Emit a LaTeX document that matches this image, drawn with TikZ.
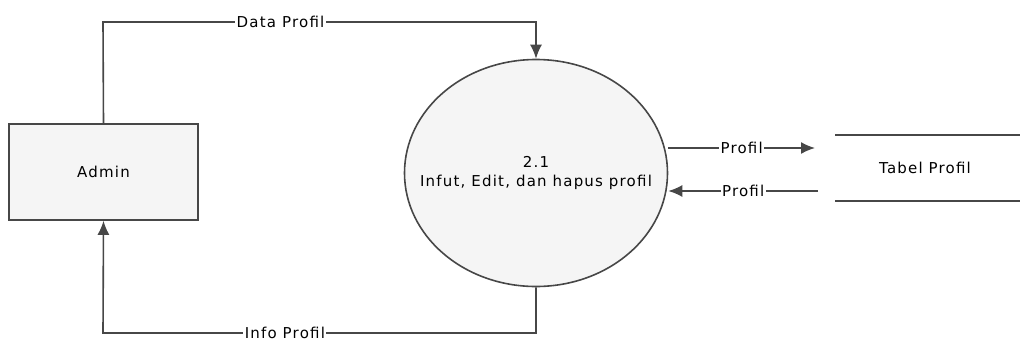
\documentclass[tikz,border=0pt]{standalone}
\usepackage{fontspec}
\setmainfont{DejaVu Sans}[LetterSpace=8]
\usetikzlibrary{shapes.geometric,arrows.meta}

\begin{document}
\begin{tikzpicture}[x=1pt,y=-1pt,
    flow/.style={line width=1.6pt,draw=black!72,-{Latex[length=14pt,width=12pt]}},
    plain/.style={line width=1.6pt,draw=black!72},
    lbl/.style={fill=white,inner sep=1.5pt,font=\fontsize{15}{17}\selectfont},
    txt/.style={font=\fontsize{15}{17}\selectfont,align=center}]
    \useasboundingbox (0,0) rectangle (1020,341);

    \node[txt,draw=black!72,line width=1.6pt,fill=black!4,
          minimum width=189pt,minimum height=96pt] (Admin) at (103.5,172) {Admin};
    \node[ellipse,draw=black!72,line width=1.6pt,fill=black!4,inner sep=0pt,
          minimum width=263pt,minimum height=227pt,
          label={[txt]center:{2.1\\[2pt]Infut, Edit, dan hapus profil}}] (Proc) at (536,173) {};
    \node[txt] (Tabel) at (925,168) {Tabel Profil};

    \coordinate (dataL) at (103,22);
    \coordinate (dataR) at (536,22);
    \coordinate (infoR) at (536,333);
    \coordinate (infoL) at (103,333);
    \coordinate (store1) at (815,148);
    \coordinate (store2) at (818,191);
    \coordinate (topL) at (835,135);
    \coordinate (topR) at (1020,135);
    \coordinate (botL) at (835,201);
    \coordinate (botR) at (1020,201);

    % data store
    \draw [plain] (topL) -- (topR);
    \draw [plain] (botL) -- (botR);

    % flows
    \draw [flow] (Admin.north) -- (dataL) -- (dataR)
        node [lbl,pos=0.41] {Data Profil} -- (Proc.north);
    \draw [flow] (Proc.south) -- (infoR) -- (infoL)
        node [lbl,pos=0.58] {Info Profil} -- (Admin.south);
    \draw [flow] (Proc.east |- store1) -- (store1)
        node [lbl,midway] {Profil};
    \draw [flow] (store2) -- (Proc.east |- store2)
        node [lbl,midway] {Profil};
\end{tikzpicture}
\end{document}
